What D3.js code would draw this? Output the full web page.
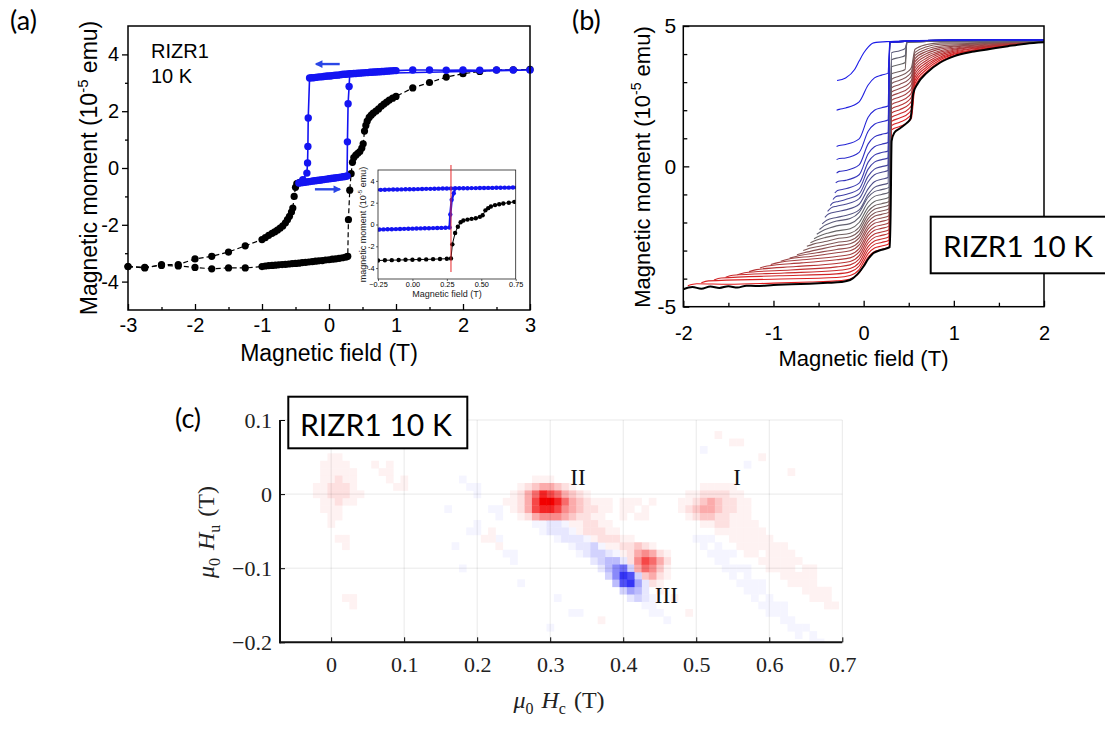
<!DOCTYPE html>
<html><head><meta charset="utf-8">
<script src="https://cdn.jsdelivr.net/npm/d3@7/dist/d3.min.js"></script>
<style>body{margin:0;background:#fff;}svg{display:block;}</style>
</head><body>
<svg id="fig" width="1105" height="731" xmlns="http://www.w3.org/2000/svg"></svg>
<script>
// ======================= DATA =======================
const panelLetters = ["(a)", "(b)", "(c)"];
const sampleLabel = "RIZR1 10 K";
const sampleLines = ["RIZR1", "10 K"];

// ---- Panel (a): magnetic moment (1e-5 emu) vs field (T)
const aXTicks = [-3, -2, -1, 0, 1, 2, 3];
const aXMinor = [-2.5, -1.5, -0.5, 0.5, 1.5, 2.5];
const aYTicks = [-4, -2, 0, 2, 4];
const aYMinor = [-3, -1, 1, 3];
const blackAscending = [[-3,-3.47],[-2.75,-3.5],[-2.5,-3.43],[-2.25,-3.45],[-2,-3.5],[-1.75,-3.55],[-1.5,-3.52],[-1.25,-3.52],[-1,-3.47],
 [-0.95,-3.45],[-0.9,-3.44],[-0.85,-3.43],[-0.8,-3.42],[-0.75,-3.41],[-0.7,-3.4],[-0.65,-3.39],[-0.6,-3.38],[-0.55,-3.37],[-0.5,-3.36],
 [-0.45,-3.35],[-0.4,-3.33],[-0.35,-3.32],[-0.3,-3.31],[-0.25,-3.3],[-0.2,-3.28],[-0.15,-3.27],[-0.1,-3.26],[-0.05,-3.24],[0,-3.23],
 [0.05,-3.21],[0.1,-3.2],[0.15,-3.18],[0.2,-3.16],[0.25,-3.14],[0.28,-3.11],[0.29,-1.82],[0.31,-0.78],[0.33,-0.2],[0.35,0.2],[0.37,0.37],
 [0.4,0.45],[0.43,0.52],[0.46,0.58],[0.49,0.7],[0.51,0.85],[0.53,1.3],[0.55,1.5],[0.57,1.65],[0.6,1.78],[0.63,1.86],[0.66,1.93],[0.7,2.0],
 [0.74,2.08],[0.78,2.17],[0.82,2.25],[0.86,2.32],[0.9,2.39],[0.95,2.46],[1,2.52],[1.25,2.82],[1.5,3.01],[1.75,3.2],[2,3.32],[2.25,3.4],
 [2.5,3.45],[2.75,3.46],[3,3.47]];
const blackDescending = [[-0.42,-0.5],[-0.45,-0.52],[-0.48,-0.55],[-0.5,-0.68],[-0.52,-1.0],[-0.54,-1.41],[-0.56,-1.55],[-0.59,-1.7],
 [-0.62,-1.82],[-0.65,-1.93],[-0.69,-2.04],[-0.73,-2.12],[-0.77,-2.19],[-0.81,-2.25],[-0.85,-2.3],[-0.9,-2.37],[-0.95,-2.45],[-1,-2.52],
 [-1.25,-2.74],[-1.5,-2.96],[-1.75,-3.11],[-2,-3.2],[-2.25,-3.4],[-2.5,-3.4],[-2.75,-3.52],[-3,-3.47]];
const blueMinorLoop = [[-0.45,-0.53],[-0.42,-0.52],[-0.39,-0.51],[-0.36,-0.5],[-0.33,-0.49],[-0.3,-0.48],[-0.27,-0.47],[-0.24,-0.46],
 [-0.21,-0.45],[-0.18,-0.44],[-0.15,-0.43],[-0.12,-0.42],[-0.09,-0.41],[-0.06,-0.4],[-0.03,-0.39],[0,-0.38],[0.03,-0.37],[0.06,-0.36],
 [0.09,-0.35],[0.12,-0.34],[0.15,-0.33],[0.18,-0.32],[0.21,-0.31],[0.24,-0.3],[0.27,-0.28],
 [0.275,0.92],[0.285,2.26],[0.3,2.87],
 [0.31,3.32],[0.34,3.32],[0.37,3.33],[0.4,3.33],[0.43,3.34],[0.46,3.34],[0.49,3.35],[0.52,3.35],[0.55,3.36],[0.58,3.36],[0.61,3.37],
 [0.64,3.37],[0.67,3.38],[0.7,3.38],[0.73,3.39],[0.76,3.39],[0.79,3.4],[0.82,3.4],[0.85,3.41],[0.88,3.41],[0.91,3.42],[0.94,3.42],
 [0.97,3.43],[1,3.43],[1.25,3.45],[1.5,3.45],[1.75,3.44],[2,3.45],[2.25,3.44],[2.5,3.45],[2.75,3.45],[3,3.45],
 [0.28,3.31],[0.25,3.3],[0.22,3.3],[0.19,3.29],[0.16,3.28],[0.13,3.27],[0.1,3.27],[0.07,3.26],[0.04,3.25],[0.01,3.24],[-0.02,3.24],
 [-0.05,3.23],[-0.08,3.22],[-0.11,3.21],[-0.14,3.21],[-0.17,3.2],[-0.2,3.19],[-0.23,3.18],[-0.26,3.18],[-0.29,3.17],
 [-0.31,1.76],[-0.315,0.76],[-0.32,0.18],[-0.33,-0.18],[-0.39,-0.41]];
const arrowUpper = [[0.16, 3.66], [-0.19, 3.66]];
const arrowLower = [[-0.21, -0.75], [0.16, -0.75]];
// inset
const insetXTicks = [-0.25, 0, 0.25, 0.5, 0.75];
const insetYTicks = [-4, -2, 0, 2, 4];
const insetMarkerField = 0.28;
const insetMarkerSpan = [-4.36, 5.46];

// ---- Panel (b): first-order reversal curves
const bXTicks = [-2, -1, 0, 1, 2];
const bXMinor = [-1.5, -0.5, 0.5, 1.5];
const bYTicks = [-5, 0, 5];
const bYMinor = [-4, -3, -2, -1, 1, 2, 3, 4];
const majorAscending = [[-2,-4.38],[-1.9,-4.3],[-1.8,-4.36],[-1.7,-4.28],[-1.6,-4.33],[-1.5,-4.27],[-1.4,-4.32],[-1.3,-4.25],[-1.2,-4.26],
 [-1,-4.23],[-0.8,-4.2],[-0.6,-4.18],[-0.4,-4.15],[-0.25,-4.12],[-0.15,-4.05],[-0.07,-3.85],[0,-3.56],[0.05,-3.3],[0.11,-3.09],[0.2,-2.97],
 [0.29,-2.88],[0.3,-1.5],[0.31,0.9],[0.34,1.2],[0.4,1.35],[0.48,1.55],[0.52,1.7],[0.55,2.6],[0.6,2.95],[0.7,3.33],[0.85,3.7],[1,3.92],
 [1.2,4.08],[1.4,4.18],[1.6,4.28],[1.8,4.37],[2,4.42]];
const saturatedTail = [[0.29,4.42],[0.6,4.47],[1.0,4.5],[1.5,4.51],[2.0,4.5]];
const grayTail = [[0.48,4.42],[0.7,4.45],[1.0,4.46],[1.5,4.47],[2.0,4.46]];
const forcCurves = [
 [[-1.95,-4.25],[-1.85,-4.18],[-1.5,-4.2],[-1,-4.16],[-0.6,-4.12],[-0.3,-4.08],[-0.15,-4.01],[-0.05,-3.8],[0.05,-3.23],[0.12,-3.03],[0.2,-2.96],[0.28,-2.88],[0.31,1.3],[0.4,1.42],[0.5,1.6],[0.53,1.72],[0.57,2.85],[0.7,3.38],[0.85,3.74],[1,3.95],[1.3,4.15],[1.6,4.3],[2,4.44]],
 [[-1.8,-4.15],[-1.72,-4.08],[-1.01,-4.02],[-0.3,-3.96],[-0.15,-3.89],[-0.05,-3.68],[0.05,-3.11],[0.12,-2.91],[0.2,-2.84],[0.28,-2.76],[0.31,1.45],[0.4,1.57],[0.5,1.75],[0.53,1.87],[0.57,2.96],[0.7,3.46],[0.85,3.8],[1,3.99],[1.3,4.17],[1.6,4.31],[2,4.44]],
 [[-1.66,-4.05],[-1.58,-3.98],[-0.94,-3.9],[-0.3,-3.83],[-0.15,-3.76],[-0.05,-3.55],[0.05,-2.98],[0.12,-2.78],[0.2,-2.71],[0.28,-2.63],[0.31,1.6],[0.4,1.72],[0.5,1.9],[0.53,2.02],[0.57,3.07],[0.7,3.54],[0.85,3.85],[1,4.02],[1.3,4.19],[1.6,4.32],[2,4.44]],
 [[-1.53,-3.95],[-1.45,-3.88],[-0.88,-3.8],[-0.3,-3.71],[-0.15,-3.64],[-0.05,-3.43],[0.05,-2.86],[0.12,-2.66],[0.2,-2.59],[0.28,-2.51],[0.31,1.75],[0.4,1.87],[0.5,2.05],[0.53,2.17],[0.57,3.18],[0.7,3.62],[0.85,3.9],[1,4.06],[1.3,4.22],[1.6,4.34],[2,4.44]],
 [[-1.4,-3.86],[-1.32,-3.79],[-0.81,-3.69],[-0.3,-3.58],[-0.15,-3.51],[-0.05,-3.3],[0.05,-2.73],[0.12,-2.53],[0.2,-2.46],[0.28,-2.38],[0.31,1.9],[0.4,2.02],[0.5,2.2],[0.53,2.32],[0.57,3.29],[0.7,3.7],[0.85,3.96],[1,4.1],[1.3,4.24],[1.6,4.35],[2,4.44]],
 [[-1.27,-3.75],[-1.19,-3.68],[-0.75,-3.57],[-0.3,-3.46],[-0.15,-3.39],[-0.05,-3.18],[0.05,-2.61],[0.12,-2.41],[0.2,-2.34],[0.28,-2.26],[0.31,2.05],[0.4,2.17],[0.5,2.35],[0.53,2.47],[0.57,3.4],[0.7,3.78],[0.85,4.01],[1,4.14],[1.3,4.26],[1.6,4.36],[2,4.44]],
 [[-1.15,-3.62],[-1.07,-3.55],[-0.69,-3.44],[-0.3,-3.33],[-0.15,-3.26],[-0.05,-3.05],[0.05,-2.48],[0.12,-2.28],[0.2,-2.21],[0.28,-2.13],[0.31,2.2],[0.4,2.32],[0.5,2.5],[0.53,2.62],[0.57,3.51],[0.7,3.86],[0.85,4.07],[1,4.17],[1.3,4.28],[1.6,4.37],[2,4.44]],
 [[-1.03,-3.5],[-0.95,-3.43],[-0.63,-3.32],[-0.3,-3.21],[-0.15,-3.14],[-0.05,-2.93],[0.05,-2.36],[0.12,-2.16],[0.2,-2.09],[0.28,-2.01],[0.31,2.35],[0.4,2.47],[0.5,2.65],[0.53,2.77],[0.57,3.62],[0.7,3.94],[0.85,4.12],[1,4.21],[1.3,4.3],[1.6,4.38],[2,4.44]],
 [[-0.92,-3.38],[-0.84,-3.31],[-0.57,-3.2],[-0.3,-3.08],[-0.15,-3.01],[-0.05,-2.8],[0.05,-2.23],[0.12,-2.03],[0.2,-1.96],[0.28,-1.88],[0.31,2.5],[0.4,2.62],[0.5,2.8],[0.53,2.92],[0.57,3.73],[0.7,4.02],[0.85,4.18],[1,4.25],[1.3,4.33],[1.6,4.4],[2,4.45]],
 [[-0.82,-3.27],[-0.74,-3.2],[-0.52,-3.08],[-0.3,-2.96],[-0.15,-2.89],[-0.05,-2.68],[0.05,-2.11],[0.12,-1.91],[0.2,-1.84],[0.28,-1.76],[0.31,2.65],[0.4,2.77],[0.5,2.95],[0.53,3.07],[0.57,3.84],[0.7,4.1],[0.85,4.24],[1,4.28],[1.3,4.35],[1.6,4.41],[2,4.45]],
 [[-0.74,-3.15],[-0.66,-3.08],[-0.48,-2.95],[-0.3,-2.83],[-0.15,-2.76],[-0.05,-2.55],[0.05,-1.98],[0.12,-1.78],[0.2,-1.71],[0.28,-1.63],[0.31,2.8],[0.4,2.92],[0.5,3.1],[0.53,3.22],[0.57,3.95],[0.7,4.18],[0.85,4.29],[1,4.32],[1.3,4.37],[1.6,4.42],[2,4.45]],
 [[-0.67,-3.0],[-0.6,-2.92],[-0.45,-2.82],[-0.3,-2.71],[-0.15,-2.64],[-0.05,-2.43],[0.05,-1.86],[0.12,-1.66],[0.2,-1.59],[0.28,-1.51],[0.31,2.95],[0.4,3.07],[0.5,3.25],[0.53,3.37],[0.57,4.06],[0.7,4.26],[0.85,4.35],[1,4.36],[1.3,4.39],[1.6,4.43],[2,4.45]],
 [[-0.63,-2.85],[-0.56,-2.77],[-0.43,-2.68],[-0.3,-2.58],[-0.15,-2.51],[-0.05,-2.3],[0.05,-1.73],[0.12,-1.53],[0.2,-1.46],[0.28,-1.38],[0.31,3.1],[0.4,3.22],[0.5,3.4],[0.53,3.52],[0.57,4.17],[0.7,4.34],[0.85,4.4],[1,4.4],[1.3,4.41],[1.6,4.44],[2,4.45]],
 [[-0.59,-2.72],[-0.52,-2.62],[-0.42,-2.53],[-0.3,-2.45],[-0.15,-2.38],[-0.05,-2.17],[0.05,-1.6],[0.12,-1.4],[0.2,-1.33],[0.28,-1.25],[0.31,3.3],[0.4,3.38],[0.46,3.45], ...grayTail],
 [[-0.55,-2.58],[-0.49,-2.48],[-0.4,-2.38],[-0.3,-2.3],[-0.15,-2.22],[-0.05,-2.0],[0.05,-1.45],[0.12,-1.25],[0.2,-1.18],[0.28,-1.1],[0.31,3.55],[0.4,3.63],[0.46,3.7], ...grayTail],
 [[-0.52,-2.42],[-0.46,-2.3],[-0.38,-2.2],[-0.3,-2.12],[-0.15,-2.04],[-0.05,-1.82],[0.05,-1.27],[0.12,-1.07],[0.2,-1.0],[0.28,-0.92],[0.31,3.8],[0.4,3.88],[0.46,3.95], ...grayTail],
 [[-0.49,-2.25],[-0.44,-2.12],[-0.37,-2.02],[-0.3,-1.95],[-0.15,-1.86],[-0.05,-1.64],[0.05,-1.1],[0.12,-0.9],[0.2,-0.83],[0.28,-0.75],[0.31,4.05],[0.4,4.12],[0.46,4.2], ...grayTail],
 [[-0.46,-2.05],[-0.41,-1.92],[-0.3,-1.82],[-0.2,-1.75],[-0.05,-1.55],[0.05,-1.0],[0.12,-0.75],[0.2,-0.66],[0.27,-0.6], ...saturatedTail],
 [[-0.43,-1.82],[-0.39,-1.7],[-0.3,-1.62],[-0.2,-1.55],[-0.05,-1.35],[0.05,-0.8],[0.12,-0.55],[0.2,-0.46],[0.27,-0.4], ...saturatedTail],
 [[-0.4,-1.6],[-0.36,-1.48],[-0.3,-1.42],[-0.2,-1.35],[-0.05,-1.15],[0.05,-0.55],[0.12,-0.3],[0.2,-0.21],[0.27,-0.15], ...saturatedTail],
 [[-0.37,-1.4],[-0.34,-1.3],[-0.28,-1.25],[-0.2,-1.18],[-0.05,-0.98],[0.05,-0.35],[0.12,-0.1],[0.2,-0.01],[0.27,0.05], ...saturatedTail],
 [[-0.34,-1.18],[-0.31,-1.08],[-0.25,-1.04],[-0.2,-1.0],[-0.05,-0.8],[0.05,-0.1],[0.12,0.15],[0.2,0.24],[0.27,0.3], ...saturatedTail],
 [[-0.32,-0.95],[-0.29,-0.86],[-0.2,-0.8],[-0.05,-0.6],[0.05,0.15],[0.12,0.4],[0.2,0.49],[0.27,0.55], ...saturatedTail],
 [[-0.31,-0.59],[-0.28,-0.53],[-0.2,-0.5],[-0.05,-0.3],[0.05,0.45],[0.12,0.7],[0.2,0.79],[0.27,0.85], ...saturatedTail],
 [[-0.3,-0.24],[-0.27,-0.18],[-0.2,-0.15],[-0.05,0.05],[0.05,0.8],[0.12,1.05],[0.2,1.14],[0.27,1.2], ...saturatedTail],
 [[-0.3,0.24],[-0.27,0.28],[-0.2,0.3],[-0.05,0.5],[0.05,1.25],[0.12,1.5],[0.2,1.59],[0.27,1.65], ...saturatedTail],
 [[-0.3,0.71],[-0.27,0.74],[-0.2,0.78],[-0.05,0.98],[0.05,1.75],[0.12,2.0],[0.2,2.09],[0.27,2.15], ...saturatedTail],
 [[-0.3,2.0],[-0.27,2.03],[-0.2,2.08],[-0.05,2.3],[0.05,2.9],[0.12,3.15],[0.2,3.25],[0.27,3.32], ...saturatedTail],
 [[-0.295,3.06],[-0.2,3.15],[-0.1,3.45],[-0.05,3.75],[0,4.04],[0.05,4.25],[0.11,4.4],[0.3,4.45],[0.6,4.48],[1,4.5],[1.5,4.52],[2,4.5]]
];

// ---- Panel (c): FORC distribution
const cXTicks = [0, 0.1, 0.2, 0.3, 0.4, 0.5, 0.6, 0.7];
const cXTickLabels = ["0", "0.1", "0.2", "0.3", "0.4", "0.5", "0.6", "0.7"];
const cYTicks = [-0.2, -0.1, 0, 0.1];
const cYTickLabels = ["\u22120.2", "\u22120.1", "0", "0.1"];
const peakLabels = [["II", 0.338, 0.012], ["I", 0.556, 0.012], ["III", 0.459, -0.147]];
const heatOrigin = [-0.07, 0.10];   // Hc of column 0, Hu of row 0
const heatStep = 0.01;
// [row, first column, levels]: a..i = positive 1..9, A..I = negative 1..9, '.' = 0
const heatRuns = [
 [5,7,"aa"],[6,6,"aaaa"],[7,6,"aaaaa"],[8,6,"aabaa"],[9,5,"aabbba"],[10,5,"aabbbaa"],[11,6,"aabaa"],[12,6,"aaa"],[13,7,"aa"],
 [14,7,"a"],[16,8,"aa"],[17,9,"a"],[24,9,"aa"],[25,10,"a"],
 [6,13,"a.a"],[7,14,"aa"],[8,15,"a.a"],[9,16,"aa"],
 [8,25,"A"],[9,26,"AA"],[10,27,"A"],[12,23,"A"],[12,29,"AA"],[13,30,"A"],[14,27,"A"],[15,26,"AA"],[16,30,"A"],[17,24,"A"],
 [18,31,"AA"],[19,32,"A"],[20,25,"A"],[22,33,"A"],[15,29,"a"],[16,28,"aa"],[17,30,"a"],
 [8,35,"aaa"],[9,33,"abcddcba"],[10,32,"abdfhgfdcba"],[11,31,"aabdgiihfdcba"],[12,32,"abdghhgedcbba"],[13,33,"abdeeedcbbaa"],
 [14,40,"aabbaa"],[15,41,"abbbaa"],[16,43,"abbbaa"],[17,45,"aabbcba"],[18,47,"abdedba"],[19,48,"begfdb"],[20,49,"dfeca"],
 [21,50,"cdba"],[22,51,"ba"],[23,52,"a"],
 [14,35,"AABBA"],[15,36,"ABBBA"],[16,38,"ABBBA"],[17,40,"ABBCA"],[18,41,"ABCCBA"],[19,43,"BCDDB"],[20,44,"BDFGC"],
 [21,45,"CFIHC"],[22,46,"DHIEB"],[23,47,"CEDB"],[24,48,"BCBA"],[25,50,"AA"],[26,51,"AA"],[27,53,"A"],
 [11,44,"aa.aaa.a"],[12,45,"a.aa.a."],[13,46,".a.aa"],
 [9,58,"aaaaa"],[10,56,"aabbbbaa"],[11,55,"aabcdcbbaa"],[12,55,"abcddcbbaa"],[13,56,"abccbbaaa"],[14,58,"aabbaaaa"],[15,60,"aaaaaaa"],
 [16,62,"aaaaaa"],[17,63,"aaaaaaa"],[18,64,"aa.aaaa"],[19,66,"aaaaaa"],[20,67,"aaaa.aa"],[21,69,"aaaaa"],[22,70,"aaaa"],
 [23,72,"aaaa"],[24,73,"aaa"],[25,75,"aa"],
 [16,57,"AAA"],[17,58,"A.A"],[18,59,"AAAA"],[19,60,"AA."],[20,61,"AAAA"],[21,62,"A.A"],[22,63,"AAAA"],[23,64,"AAA"],
 [24,65,"A.A"],[25,66,"AAAA"],[26,67,"AAA"],[27,69,"AA"],[28,70,"AAA"],[29,71,"A.A"],[30,73,"AA"],
 [2,60,"a"],[3,62,"aa"],[4,58,"A"],[5,66,"a"],[6,64,"A"],[7,70,"a"],
 [24,38,"A"],[26,40,"AA"],[28,37,"A"],[27,44,"a"],[24,54,"a"],[26,56,"a"]
];

// ======================= DRAWING =======================
const svg = d3.select("#fig");
const SANS = "'Liberation Sans', Arial, sans-serif";
const CAL = "Lato, 'Open Sans', sans-serif";
const SERIF = "'Liberation Serif', 'DejaVu Serif', serif";
const defs = svg.append("defs");

function fitWidth(sel, w) {
  const L = sel.node().getComputedTextLength();
  if (L > 0) sel.attr("font-size", (+sel.attr("font-size")) * w / L);
}

// panel letters
[[10, 30], [572, 30], [175, 428]].forEach((p, i) => {
  svg.append("text").attr("x", p[0]).attr("y", p[1]).attr("font-family", CAL)
    .attr("font-size", 27).attr("fill", "#000").text(panelLetters[i]);
});

// ---------- Panel (a) ----------
const ax = d3.scaleLinear().domain([-3, 3]).range([128, 530]);
const ay = d3.scaleLinear().domain([-5, 5]).range([310, 26]);
const gA = svg.append("g");

function styleAxis(g, size, family) {
  g.select(".domain").remove();
  g.selectAll("text").attr("font-size", size).attr("font-family", family).attr("fill", "#000");
  g.selectAll("line").attr("stroke", "#000");
}
gA.append("g").attr("transform", "translate(128,0)")
  .call(d3.axisLeft(ay).tickValues(aYTicks).tickSize(6).tickPadding(3).tickFormat(d => String(d)))
  .call(g => styleAxis(g, 20, SANS)).selectAll("line").attr("stroke-width", 1.3);
gA.append("g").attr("transform", "translate(128,0)")
  .call(d3.axisLeft(ay).tickValues(aYMinor).tickSize(3).tickFormat(""))
  .call(g => styleAxis(g, 20, SANS)).selectAll("line").attr("stroke-width", 1.3);
gA.append("g").attr("transform", "translate(0,310)")
  .call(d3.axisBottom(ax).tickValues(aXTicks).tickSize(-6).tickPadding(8).tickFormat(d => String(d)))
  .call(g => styleAxis(g, 20, SANS)).selectAll("line").attr("stroke-width", 1.3);
gA.append("g").attr("transform", "translate(0,310)")
  .call(d3.axisBottom(ax).tickValues(aXMinor).tickSize(-3).tickFormat(""))
  .call(g => styleAxis(g, 20, SANS)).selectAll("line").attr("stroke-width", 1.3);

const lineA = d3.line().x(d => ax(d[0])).y(d => ay(d[1]));
[blackAscending, blackDescending].forEach(c => {
  gA.append("path").attr("d", lineA(c)).attr("fill", "none").attr("stroke", "#000")
    .attr("stroke-width", 1.2).attr("stroke-dasharray", "5,3");
});
[blackAscending, blackDescending].forEach(c => {
  gA.append("g").selectAll("circle").data(c).join("circle")
    .attr("cx", d => ax(d[0])).attr("cy", d => ay(d[1])).attr("r", 3.6).attr("fill", "#000");
});
const BLUE = "#1414f2";
gA.append("path").attr("d", lineA(blueMinorLoop)).attr("fill", "none").attr("stroke", BLUE).attr("stroke-width", 1.6);
gA.append("g").selectAll("circle").data(blueMinorLoop).join("circle")
  .attr("cx", d => ax(d[0])).attr("cy", d => ay(d[1])).attr("r", 3.7).attr("fill", BLUE);

// arrows
defs.append("marker").attr("id", "arr").attr("viewBox", "0 0 10 10").attr("refX", 8).attr("refY", 5)
  .attr("markerWidth", 4).attr("markerHeight", 3.2).attr("orient", "auto").attr("markerUnits", "strokeWidth")
  .append("path").attr("d", "M0,0 L10,5 L0,10 z").attr("fill", "#2a46e6");
[arrowUpper, arrowLower].forEach(a => {
  gA.append("line").attr("x1", ax(a[0][0])).attr("y1", ay(a[0][1])).attr("x2", ax(a[1][0])).attr("y2", ay(a[1][1]))
    .attr("stroke", "#2a46e6").attr("stroke-width", 2.4).attr("marker-end", "url(#arr)");
});

// frame
gA.append("rect").attr("x", 128).attr("y", 26).attr("width", 402).attr("height", 284)
  .attr("fill", "none").attr("stroke", "#000").attr("stroke-width", 1.5);

// sample text
sampleLines.forEach((t, i) => gA.append("text").attr("x", 151).attr("y", 58 + 25 * i)
  .attr("font-family", SANS).attr("font-size", 20).text(t));

// axis titles (a)
const ylabA = gA.append("text").attr("transform", "translate(97,168) rotate(-90)").attr("text-anchor", "middle")
  .attr("font-family", SANS).attr("font-size", 23);
ylabA.append("tspan").text("Magnetic moment (10");
ylabA.append("tspan").attr("font-size", 15).attr("dy", -9).text("-5");
ylabA.append("tspan").attr("dy", 9).text(" emu)");
gA.append("text").attr("x", 329).attr("y", 361).attr("text-anchor", "middle")
  .attr("font-family", SANS).attr("font-size", 23).text("Magnetic field (T)");

// inset
const ix = d3.scaleLinear().domain([-0.25, 0.75]).range([378, 515.7]);
const iy = d3.scaleLinear().domain([-5, 5]).range([279, 170]);
const gI = svg.append("g");
gI.append("rect").attr("x", 378).attr("y", 170).attr("width", 137.7).attr("height", 109).attr("fill", "#fff");
defs.append("clipPath").attr("id", "insetClip").append("rect").attr("x", 378).attr("y", 170).attr("width", 137.7).attr("height", 109);
const gIc = gI.append("g").attr("clip-path", "url(#insetClip)");
const lineI = d3.line().x(d => ix(d[0])).y(d => iy(d[1]));
const inRange = d => d[0] >= -0.27 && d[0] <= 0.77;
[blackAscending, blackDescending].forEach(c => {
  const pts = c.filter(inRange);
  gIc.append("path").attr("d", lineI(pts)).attr("fill", "none").attr("stroke", "#000").attr("stroke-width", 1);
  gIc.append("g").selectAll("circle").data(pts).join("circle")
    .attr("cx", d => ix(d[0])).attr("cy", d => iy(d[1])).attr("r", 2.2).attr("fill", "#000");
});
{
  const pts = blueMinorLoop.filter(inRange);
  gIc.append("path").attr("d", lineI(pts)).attr("fill", "none").attr("stroke", BLUE).attr("stroke-width", 2.4);
  gIc.append("g").selectAll("circle").data(pts).join("circle")
    .attr("cx", d => ix(d[0])).attr("cy", d => iy(d[1])).attr("r", 2.2).attr("fill", BLUE);
}
gI.append("g").attr("transform", "translate(378,0)")
  .call(d3.axisLeft(iy).tickValues(insetYTicks).tickSize(2).tickPadding(1.5).tickFormat(d => String(d)))
  .call(g => styleAxis(g, 7.3, SANS)).selectAll("line").attr("stroke-width", 0.6);
gI.append("g").attr("transform", "translate(0,279)")
  .call(d3.axisBottom(ix).tickValues(insetXTicks).tickSize(2).tickPadding(1).tickFormat(d3.format(".2f")))
  .call(g => styleAxis(g, 7.3, SANS)).selectAll("line").attr("stroke-width", 0.6);
gI.append("rect").attr("x", 378).attr("y", 170).attr("width", 137.7).attr("height", 109)
  .attr("fill", "none").attr("stroke", "#222").attr("stroke-width", 0.8);
gI.append("line").attr("x1", ix(insetMarkerField)).attr("x2", ix(insetMarkerField))
  .attr("y1", iy(insetMarkerSpan[1])).attr("y2", iy(insetMarkerSpan[0])).attr("stroke", "#e8282b").attr("stroke-width", 1);
const ylabI = gI.append("text").attr("transform", "translate(365.5,224.5) rotate(-90)").attr("text-anchor", "middle")
  .attr("font-family", SANS).attr("font-size", 9).attr("fill", "#222");
ylabI.append("tspan").text("magnetic moment (10");
ylabI.append("tspan").attr("font-size", 6).attr("dy", -3.5).text("-5");
ylabI.append("tspan").attr("dy", 3.5).text(" emu)");
gI.append("text").attr("x", 447).attr("y", 297).attr("text-anchor", "middle")
  .attr("font-family", SANS).attr("font-size", 9).attr("fill", "#222").text("Magnetic field (T)");

// ---------- Panel (b) ----------
const bx = d3.scaleLinear().domain([-2, 2]).range([683.3, 1044]);
const by = d3.scaleLinear().domain([-5, 5]).range([306.7, 26]);
const gB = svg.append("g");
defs.append("clipPath").attr("id", "bClip").append("rect").attr("x", 683.3).attr("y", 26).attr("width", 360.7).attr("height", 280.7);
const gBc = gB.append("g").attr("clip-path", "url(#bClip)");
const bColor = d3.piecewise(d3.interpolateRgb, ["#e3191b", "#666666", "#1a1ae8"]);
const lineB = d3.line().x(d => bx(d[0])).y(d => by(d[1])).curve(d3.curveMonotoneX);
forcCurves.forEach((c, i) => {
  gBc.append("path").attr("d", lineB(c)).attr("fill", "none")
    .attr("stroke", bColor(i / (forcCurves.length - 1))).attr("stroke-width", 1.1);
});
gBc.append("path").attr("d", lineB(majorAscending)).attr("fill", "none").attr("stroke", "#000").attr("stroke-width", 2);

gB.append("g").attr("transform", "translate(683.3,0)")
  .call(d3.axisLeft(by).tickValues(bYTicks).tickSize(-6).tickPadding(7).tickFormat(d => String(d)))
  .call(g => styleAxis(g, 21, SANS)).selectAll("line").attr("stroke-width", 1.3);
gB.append("g").attr("transform", "translate(683.3,0)")
  .call(d3.axisLeft(by).tickValues(bYMinor).tickSize(-4).tickFormat(""))
  .call(g => styleAxis(g, 21, SANS)).selectAll("line").attr("stroke-width", 1.3);
gB.append("g").attr("transform", "translate(0,306.7)")
  .call(d3.axisBottom(bx).tickValues(bXTicks).tickSize(-6).tickPadding(19).tickFormat(d => String(d)))
  .call(g => styleAxis(g, 20, SANS)).selectAll("line").attr("stroke-width", 1.3);
gB.append("g").attr("transform", "translate(0,306.7)")
  .call(d3.axisBottom(bx).tickValues(bXMinor).tickSize(-4).tickFormat(""))
  .call(g => styleAxis(g, 20, SANS)).selectAll("line").attr("stroke-width", 1.3);
gB.append("rect").attr("x", 683.3).attr("y", 26).attr("width", 360.7).attr("height", 280.7)
  .attr("fill", "none").attr("stroke", "#000").attr("stroke-width", 1.5);
const ylabB = gB.append("text").attr("transform", "translate(650,167) rotate(-90)").attr("text-anchor", "middle")
  .attr("font-family", SANS).attr("font-size", 22);
ylabB.append("tspan").text("Magnetic moment (10");
ylabB.append("tspan").attr("font-size", 14).attr("dy", -9).text("-5");
ylabB.append("tspan").attr("dy", 9).text(" emu)");
gB.append("text").attr("x", 863.5).attr("y", 366).attr("text-anchor", "middle")
  .attr("font-family", SANS).attr("font-size", 22).text("Magnetic field (T)");
gB.append("rect").attr("x", 930.7).attr("y", 216.7).attr("width", 200).attr("height", 56.6)
  .attr("fill", "#fff").attr("stroke", "#000").attr("stroke-width", 2);
const tB = gB.append("text").attr("x", 943).attr("y", 256.5).attr("font-family", CAL).attr("font-size", 32).text(sampleLabel);
fitWidth(tB, 150);

// ---------- Panel (c) ----------
const cx = d3.scaleLinear().domain([-0.07, 0.7]).range([280, 842.3]);
const cy = d3.scaleLinear().domain([-0.2, 0.1]).range([642.3, 420]);
const gC = svg.append("g");
defs.append("clipPath").attr("id", "cClip").append("rect").attr("x", 280).attr("y", 420).attr("width", 562.3).attr("height", 222.3);
const gCc = gC.append("g").attr("clip-path", "url(#cClip)");
const heatLevel = [0, 0.05, 0.12, 0.22, 0.33, 0.45, 0.58, 0.72, 0.86, 1.0];
const redI = d3.interpolateRgb("#ffffff", "#f20000");
const blueI = d3.interpolateRgb("#ffffff", "#3434f5");
const cells = [];
heatRuns.forEach(([row, col0, s]) => {
  [...s].forEach((ch, k) => {
    if (ch === ".") return;
    const code = ch.charCodeAt(0);
    const isRed = code >= 97;
    const lvl = isRed ? code - 96 : code - 64;
    cells.push({ hc: heatOrigin[0] + (col0 + k) * heatStep, hu: heatOrigin[1] - row * heatStep, red: isRed, lvl });
  });
});
cells.sort((a, b) => a.lvl - b.lvl);
const cw = cx(heatStep) - cx(0), ch = cy(0) - cy(heatStep);
gCc.selectAll("rect.cell").data(cells).join("rect").attr("class", "cell")
  .attr("x", d => cx(d.hc) - cw / 2).attr("y", d => cy(d.hu) - ch / 2)
  .attr("width", cw + 0.4).attr("height", ch + 0.4)
  .attr("fill", d => (d.red ? redI : blueI)(heatLevel[d.lvl]));
// grid
gC.append("g").selectAll("line").data(cXTicks).join("line")
  .attr("x1", d => cx(d)).attr("x2", d => cx(d)).attr("y1", 420).attr("y2", 642.3)
  .attr("stroke", "#000").attr("stroke-opacity", 0.1).attr("stroke-width", 0.9);
gC.append("g").selectAll("line").data(cYTicks).join("line")
  .attr("x1", 280).attr("x2", 842.3).attr("y1", d => cy(d)).attr("y2", d => cy(d))
  .attr("stroke", "#000").attr("stroke-opacity", 0.1).attr("stroke-width", 0.9);
// axes
gC.append("g").attr("transform", "translate(280,0)")
  .call(d3.axisLeft(cy).tickValues(cYTicks).tickSize(-5).tickPadding(8).tickFormat((d, i) => cYTickLabels[i]))
  .call(g => styleAxis(g, 22, SERIF)).call(g => g.selectAll("text").attr("fill", "#222"))
  .selectAll("line").attr("stroke-width", 1);
gC.append("g").attr("transform", "translate(0,642.3)")
  .call(d3.axisBottom(cx).tickValues(cXTicks).tickSize(-5).tickPadding(14).tickFormat((d, i) => cXTickLabels[i]))
  .call(g => styleAxis(g, 22, SERIF)).call(g => g.selectAll("text").attr("fill", "#222"))
  .selectAll("line").attr("stroke-width", 1);
gC.append("line").attr("x1", 280).attr("x2", 280).attr("y1", 420).attr("y2", 643.3).attr("stroke", "#111").attr("stroke-width", 2);
gC.append("line").attr("x1", 279).attr("x2", 842.3).attr("y1", 642.3).attr("y2", 642.3).attr("stroke", "#111").attr("stroke-width", 2);
// peak labels
peakLabels.forEach(([t, hc, hu]) => gC.append("text").attr("x", cx(hc)).attr("y", cy(hu)).attr("text-anchor", "middle")
  .attr("font-family", SERIF).attr("font-size", 23).attr("fill", "#111").text(t));
// axis titles
function muLabel(sel, sub) {
  sel.append("tspan").attr("font-style", "italic").text("\u03bc");
  sel.append("tspan").attr("font-size", 16).attr("dy", 6).text("0");
  sel.append("tspan").attr("font-style", "italic").attr("dx", 8).attr("dy", -6).text("H");
  sel.append("tspan").attr("font-size", 16).attr("dy", 6).text(sub);
  sel.append("tspan").attr("dx", 8).attr("dy", -6).text("(T)");
}
const xlabC = gC.append("text").attr("x", 559).attr("y", 708).attr("text-anchor", "middle")
  .attr("font-family", SERIF).attr("font-size", 24).attr("fill", "#222");
muLabel(xlabC, "c");
const ylabC = gC.append("text").attr("transform", "translate(214,532) rotate(-90)").attr("text-anchor", "middle")
  .attr("font-family", SERIF).attr("font-size", 24).attr("fill", "#222");
muLabel(ylabC, "u");
// sample box
gC.append("rect").attr("x", 288.3).attr("y", 396.7).attr("width", 179).attr("height", 51.6)
  .attr("fill", "#fff").attr("stroke", "#000").attr("stroke-width", 2);
const tC = gC.append("text").attr("x", 300).attr("y", 436).attr("font-family", CAL).attr("font-size", 32).text(sampleLabel);
fitWidth(tC, 152);
</script>
</body></html>
